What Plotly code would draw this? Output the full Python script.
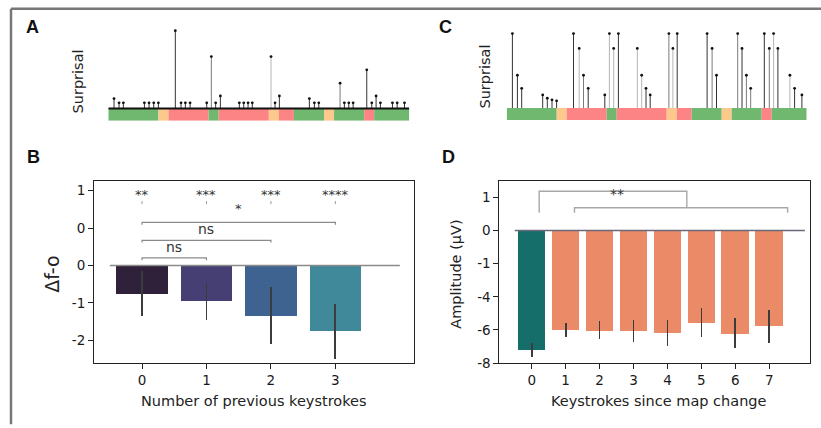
import plotly.graph_objects as go

W, H = 821, 428
def fx(px): return px / W
def fy(py): return 1 - py / H

# ---------------- data ----------------
# keystroke timeline segments (shared by A and C)
seg_len = [5, 1, 4, 1, 5, 1, 1.5, 3, 1, 3, 1, 3.5]
seg_cat = ['g', 'o', 'r', 'g', 'r', 'o', 'r', 'g', 'o', 'g', 'r', 'g']
stem_x = [0.57, 1.07, 1.5, 3.6, 4.06, 4.53, 4.99, 6.68, 7.25, 7.68, 8.15, 9.81,
          10.27, 10.7, 11.17, 13.06, 13.5, 13.93, 14.35, 16.22, 16.62, 17.05,
          20.04, 20.54, 20.98, 23.1, 23.53, 23.97, 24.4, 25.76, 26.26, 26.69,
          27.12, 28.32, 28.79, 29.52]
surprisal_A = [0.76, 0.43, 0.43, 0.43, 0.43, 0.43, 0.43, 6.0, 0.43, 0.43, 0.43, 0.43,
               4.0, 0.43, 0.96, 0.43, 0.43, 0.43, 0.43, 4.0, 0.43, 0.96,
               0.76, 0.43, 0.43, 1.95, 0.43, 0.43, 0.43, 2.98, 0.43, 0.96,
               0.43, 0.43, 0.43, 0.43]
shade_A = ['d'] * 7 + ['d', 'd', 'd', 'd', 'd', 'm', 'd', 'd', 'd', 'd', 'd', 'd', 'l', 'd', 'd',
                       'd', 'd', 'd', 'm', 'd', 'd', 'd', 'd', 'd', 'd', 'd', 'd', 'd', 'd']
surprisal_C = [5.0, 2.2, 1.32, 0.88, 0.66, 0.55, 0.48, 5.0, 4.0, 2.2, 1.32, 0.88,
               5.0, 4.0, 5.0, 4.0, 2.2, 1.32, 0.88, 5.0, 4.0, 5.0,
               5.0, 4.0, 2.2, 5.0, 4.0, 2.2, 1.32, 5.0, 4.0, 5.0,
               4.0, 2.2, 1.32, 0.88]
shade_C = ['d', 'd', 'd', 'd', 'd', 'd', 'd', 'd', 'l', 'm', 'd', 'd',
           'l', 'l', 'd', 'l', 'l', 'd', 'd', 'm', 'l', 'd',
           'd', 'm', 'd', 'm', 'd', 'm', 'm', 'd', 'm', 'l',
           'd', 'l', 'd', 'd']

# panel B
b_cats = [0, 1, 2, 3]
b_vals = [-0.76, -0.95, -1.34, -1.75]
b_lo = [-1.34, -1.46, -2.10, -2.50]
b_hi = [-0.16, -0.47, -0.58, -1.02]
b_colors = ['#2e2139', '#463f73', '#3e6390', '#3f899a']
b_stars = ['**', '***', '***', '****']
b_tickvals = [2, 1, 0, -1, -2]
b_ticktext = ['1', '0', '0', '-1', '-2']

# panel D
d_cats = [0, 1, 2, 3, 4, 5, 6, 7]
d_vals = [-7.2, -6.02, -6.06, -6.06, -6.18, -5.56, -6.24, -5.76]
d_lo = [-7.63, -6.43, -6.57, -6.75, -6.96, -6.45, -7.08, -6.76]
d_hi = [-6.80, -5.56, -5.48, -5.42, -5.38, -4.67, -5.25, -4.77]
d_colors = ['#166e6b'] + ['#ea8a66'] * 7
d_tickvals = [2, 0, -2, -4, -6, -8]
d_ticktext = ['1', '0', '-1', '-4', '-6', '-8']

seg_colors = {'g': '#70b770', 'o': '#fcc88b', 'r': '#fc8484'}
shade_colors = {'d': '#333333', 'm': '#7a7a7a', 'l': '#b5b5b5'}

FONT = 'DejaVu Sans'
fig = go.Figure()
shapes = []
annotations = []

# ---------------- top stem panels ----------------
def stem_panel(xa, ya, heights, shades, strip_bottom, baseline):
    start = 0
    for L, c in zip(seg_len, seg_cat):
        shapes.append(dict(type='rect', xref=xa, yref=ya, x0=start, x1=start + L,
                           y0=strip_bottom, y1=0, fillcolor=seg_colors[c], line_width=0,
                           layer='below'))
        start += L
    if baseline:
        shapes.append(dict(type='line', xref=xa, yref=ya, x0=0, x1=sum(seg_len), y0=0, y1=0,
                           line=dict(color='#111111', width=2)))
    for s in ['d', 'm', 'l']:
        xs, ys = [], []
        for x, h, sh in zip(stem_x, heights, shades):
            if sh == s:
                xs += [x, x, None]
                ys += [0, h, None]
        fig.add_trace(go.Scatter(x=xs, y=ys, mode='lines', xaxis=xa, yaxis=ya,
                                 line=dict(color=shade_colors[s], width=1),
                                 showlegend=False, hoverinfo='skip'))
    fig.add_trace(go.Scatter(x=stem_x, y=heights, mode='markers', xaxis=xa, yaxis=ya,
                             marker=dict(color='#111111', size=2.8),
                             showlegend=False, hoverinfo='skip'))

stem_panel('x', 'y', surprisal_A, shade_A, -0.947, True)
stem_panel('x3', 'y3', surprisal_C, shade_C, -0.81, False)

# ---------------- panel B ----------------
fig.add_trace(go.Bar(x=b_cats, y=b_vals, width=0.8, xaxis='x2', yaxis='y2',
                     marker=dict(color=b_colors, line_width=0),
                     error_y=dict(type='data', symmetric=False,
                                  array=[h - v for h, v in zip(b_hi, b_vals)],
                                  arrayminus=[v - l for v, l in zip(b_vals, b_lo)],
                                  width=0, thickness=1.8, color='#3c3c3c'),
                     showlegend=False))
shapes.append(dict(type='line', xref='x2', yref='y2', x0=-0.5, x1=4.0, y0=0, y1=0,
                   line=dict(color='#8a8a8a', width=1.5)))
for c, s in zip(b_cats, b_stars):
    annotations.append(dict(x=c, y=1.9, xref='x2', yref='y2', text=s, showarrow=False,
                            font=dict(family=FONT, size=13, color='#333')))
    shapes.append(dict(type='line', xref='x2', yref='y2', x0=c, x1=c, y0=1.64, y1=1.72,
                       line=dict(color='#999', width=1)))
brackets_B = [(0, 3, 1.15, '*', 1.5), (0, 2, 0.67, 'ns', 1.0), (0, 1, 0.20, 'ns', 0.5)]
for x0, x1, yb, t, xt in brackets_B:
    fig.add_trace(go.Scatter(x=[x0, x0, x1, x1], y=[yb - 0.06, yb, yb, yb - 0.06],
                             mode='lines', xaxis='x2', yaxis='y2',
                             line=dict(color='#8a8a8a', width=1.2),
                             showlegend=False, hoverinfo='skip'))
    annotations.append(dict(x=xt, y=yb + (0.38 if t == '*' else 0.29), xref='x2', yref='y2',
                            text=t, showarrow=False,
                            font=dict(family=FONT, size=14 if t != '*' else 13, color='#333')))

# ---------------- panel D ----------------
fig.add_trace(go.Bar(x=d_cats, y=d_vals, width=0.8, xaxis='x4', yaxis='y4',
                     marker=dict(color=d_colors, line_width=0),
                     error_y=dict(type='data', symmetric=False,
                                  array=[h - v for h, v in zip(d_hi, d_vals)],
                                  arrayminus=[v - l for v, l in zip(d_vals, d_lo)],
                                  width=0, thickness=1.8, color='#3c3c3c'),
                     showlegend=False))
shapes.append(dict(type='line', xref='x4', yref='y4', x0=-0.5, x1=8.05, y0=0, y1=0,
                   line=dict(color='#6a6a7a', width=1.5)))
fig.add_trace(go.Scatter(x=[0.22, 0.22, 4.57, 4.57], y=[1.08, 2.37, 2.37, 1.38],
                         mode='lines', xaxis='x4', yaxis='y4',
                         line=dict(color='#a8a8a8', width=1.4), showlegend=False, hoverinfo='skip'))
fig.add_trace(go.Scatter(x=[1.26, 1.26, 7.54, 7.54], y=[1.08, 1.38, 1.38, 1.08],
                         mode='lines', xaxis='x4', yaxis='y4',
                         line=dict(color='#a8a8a8', width=1.4), showlegend=False, hoverinfo='skip'))
annotations.append(dict(x=2.5, y=2.2, xref='x4', yref='y4', text='**', showarrow=False,
                        font=dict(family=FONT, size=14, color='#333')))

# ---------------- text labels ----------------
def txt(x, y, t, size, bold=False, angle=0, fam=FONT, color='#222'):
    annotations.append(dict(x=fx(x), y=fy(y), xref='paper', yref='paper',
                            text=('<b>%s</b>' % t) if bold else t,
                            showarrow=False, textangle=angle, xanchor='center', yanchor='middle',
                            font=dict(family=fam, size=size, color=color)))

txt(32, 28, 'A', 18, bold=True, fam='Liberation Sans', color='#111')
txt(445, 28, 'C', 18, bold=True, fam='Liberation Sans', color='#111')
txt(33, 160, 'B', 18, bold=True, fam='Liberation Sans', color='#111')
txt(448, 160, 'D', 18, bold=True, fam='Liberation Sans', color='#111')
txt(78, 83, 'Surprisal', 14.5, angle=-90)
txt(485, 78, 'Surprisal', 14.5, angle=-90)
txt(52, 279, 'Δf-o', 19, angle=-90)
txt(456, 280, 'Amplitude (μV)', 14.5, angle=-90)
txt(254, 409, 'Number of previous keystrokes', 14.5)
txt(659, 409, 'Keystrokes since map change', 14.5)

# outer frame
shapes.append(dict(type='line', xref='paper', yref='paper', x0=fx(11), x1=1.01, y0=fy(9), y1=fy(9),
                   line=dict(color='#777777', width=2.5)))
shapes.append(dict(type='line', xref='paper', yref='paper', x0=fx(11), x1=fx(11), y0=fy(9), y1=-0.01,
                   line=dict(color='#777777', width=2.5)))

hidden = dict(visible=False, fixedrange=True)
tickfont = dict(family=FONT, size=13.5, color='#1a1a1a')
boxax = dict(showline=True, linecolor='#222', linewidth=1, mirror=True, ticks='outside',
             ticklen=5, tickcolor='#222', tickfont=tickfont, showgrid=False, zeroline=False)

fig.update_layout(
    width=W, height=H, autosize=False,
    margin=dict(l=0, r=0, t=0, b=0),
    paper_bgcolor='white', plot_bgcolor='white',
    xaxis=dict(domain=[fx(108.3), fx(409.3)], range=[0, 30], anchor='y', **hidden),
    yaxis=dict(domain=[fy(123), fy(25)], range=[-0.947, 6.477], anchor='x', **hidden),
    xaxis3=dict(domain=[fx(506.7), fx(806.7)], range=[0, 30], anchor='y3', **hidden),
    yaxis3=dict(domain=[fy(122.3), fy(25)], range=[-0.81, 5.61], anchor='x3', **hidden),
    xaxis2=dict(domain=[fx(94), fx(414)], range=[-0.745, 4.22], anchor='y2',
                tickvals=b_cats, ticktext=[str(c) for c in b_cats], **boxax),
    yaxis2=dict(domain=[fy(370), fy(184.3)], range=[-2.61, 2.26], anchor='x2',
                tickvals=b_tickvals, ticktext=b_ticktext, **boxax),
    xaxis4=dict(domain=[fx(499.3), fx(810)], range=[-0.955, 8.2], anchor='y4',
                tickvals=d_cats, ticktext=[str(c) for c in d_cats], **boxax),
    yaxis4=dict(domain=[fy(370), fy(184.3)], range=[-8, 3], anchor='x4',
                tickvals=d_tickvals, ticktext=d_ticktext, **boxax),
    shapes=shapes, annotations=annotations, bargap=0, showlegend=False,
)

fig.write_html('out.html')
